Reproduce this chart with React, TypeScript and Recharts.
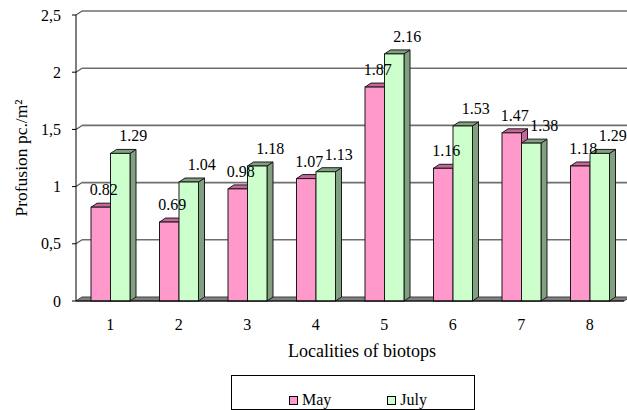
import React from 'react';
import { BarChart, Bar, XAxis, YAxis, CartesianGrid, LabelList, Legend } from 'recharts';

const categories = ['1', '2', '3', '4', '5', '6', '7', '8'];
const mayValues = [0.82, 0.69, 0.98, 1.07, 1.87, 1.16, 1.47, 1.18];
const julyValues = [1.29, 1.04, 1.18, 1.13, 2.16, 1.53, 1.38, 1.29];
const yTicks = [0, 0.5, 1, 1.5, 2, 2.5];
const edgeTicks = [0, 1, 2, 3, 4, 5, 6, 7, 8];
const seriesNames = ['May', 'July'];
const xTitle = 'Localities of biotops';
const yTitle = 'Profusion pc./m²';

const data = categories.map((c, i) => ({ name: c, may: mayValues[i], july: julyValues[i] }));

const FONT = 'Liberation Serif, Times New Roman, DejaVu Serif, serif';
const DX = 6;
const DY = -4;
const MARGIN = { top: 15, right: 3, left: 0, bottom: 79 };
const CHART_H = 410;
const X_AXIS_H = 30;
const PLOT_BOTTOM = CHART_H - MARGIN.bottom - X_AXIS_H;

const PINK = '#FF99CC';
const PINK_DARK = '#C8669A';
const GREEN = '#CCFFCC';
const GREEN_DARK = '#80A080';
const EDGE = '#1a1a1a';

const Bar3D = (props: any) => {
  const { x, y, width, height, front, dark } = props;
  if (x == null || y == null) return null;
  const X = Number(x), Y = Number(y), W = Number(width), H = Number(height);
  const top = `${X},${Y} ${X + DX},${Y + DY} ${X + W + DX},${Y + DY} ${X + W},${Y}`;
  const side = `${X + W},${Y} ${X + W + DX},${Y + DY} ${X + W + DX},${Y + H + DY} ${X + W},${Y + H}`;
  return (
    <g>
      <polygon points={side} fill={dark} stroke={EDGE} strokeWidth={1} strokeLinejoin="round" />
      <polygon points={top} fill={dark} stroke={EDGE} strokeWidth={1} strokeLinejoin="round" />
      <rect x={X} y={Y} width={W} height={H} fill={front} stroke={EDGE} strokeWidth={1} />
    </g>
  );
};

const makeLabel = (shift: number) => (props: any) => {
  const vb = props.viewBox && props.viewBox.x != null ? props.viewBox : props;
  const x = Number(vb.x), y = Number(vb.y), w = Number(vb.width), h = Number(vb.height);
  const top = h < 0 ? y + h : y;
  return (
    <text x={x + w / 2 + shift} y={top - 12} textAnchor="middle" style={{ fontSize: 16, fontFamily: FONT }} fill="#000">
      {Number(props.value).toFixed(2)}
    </text>
  );
};

const gridLine = (p: any) => {
  const { x1, x2, y1, key } = p;
  const bottom = p.y != null && p.height != null ? Number(p.y) + Number(p.height) : PLOT_BOTTOM;
  if (Math.abs(y1 - bottom) < 1) {
    const pts = `${x1},${y1} ${x2},${y1} ${x2 + DX},${y1 + DY} ${x1 + DX},${y1 + DY}`;
    return (
      <g key={key}>
        <polygon points={pts} fill="#808080" stroke="#404040" strokeWidth={1} />
      </g>
    );
  }
  return (
    <g key={key}>
      <line x1={x1} y1={y1} x2={x1 + DX} y2={y1 + DY} stroke="#555" strokeWidth={1.2} />
      <line x1={x1 + DX} y1={y1 + DY} x2={x2 + DX} y2={y1 + DY} stroke="#6e6e6e" strokeWidth={1.6} />
    </g>
  );
};

const LegendBox = (props: any) => {
  const payload = [...(props.payload || [])].sort(
    (a: any, b: any) => seriesNames.indexOf(a.value) - seriesNames.indexOf(b.value)
  );
  return (
    <div
      style={{
        boxSizing: 'border-box',
        width: 244,
        height: 35,
        border: '1px solid #000',
        background: '#fff',
        position: 'relative',
        fontFamily: FONT,
        fontSize: 16,
        color: '#000',
      }}
    >
      <div style={{ position: 'absolute', left: 0, right: 0, top: 16, display: 'flex', justifyContent: 'center', alignItems: 'center', paddingLeft: 10 }}>
        {payload.map((e: any, i: number) => (
          <div key={i} style={{ display: 'flex', alignItems: 'center', marginRight: i === 0 ? 56 : 0 }}>
            <span style={{ display: 'inline-block', width: 7, height: 7, border: '1px solid #000', background: e.color, marginRight: 4 }} />
            <span style={{ lineHeight: '16px' }}>{e.value}</span>
          </div>
        ))}
      </div>
    </div>
  );
};

const tickStyle = { fontSize: 16, fontFamily: FONT, fill: '#000' };

export default function App() {
  return (
    <div style={{ position: 'absolute', left: 0, top: 0, width: 627, height: 410, background: '#fff', fontFamily: FONT }}>
      <BarChart width={627} height={CHART_H} data={data} margin={MARGIN} barGap={0} barSize={19.5} style={{ fontFamily: FONT }}>
        <CartesianGrid vertical={false} horizontal={gridLine} />
        <XAxis
          xAxisId="edge"
          type="number"
          domain={[0, 8]}
          ticks={edgeTicks}
          tick={false}
          tickSize={5}
          tickLine={{ stroke: '#000' }}
          axisLine={false}
          height={0}
          allowDataOverflow
        />
        <XAxis
          dataKey="name"
          height={X_AXIS_H}
          tickLine={false}
          tickSize={0}
          tickMargin={18}
          axisLine={{ stroke: '#000' }}
          tick={tickStyle}
          label={{
            content: (lp: any) => {
              const vb = lp.viewBox || {};
              return (
                <text x={Number(vb.x) + Number(vb.width) / 2 + 12} y={357} textAnchor="middle" style={{ fontSize: 18, fontFamily: FONT }} fill="#000">
                  {xTitle}
                </text>
              );
            },
          }}
        />
        <YAxis
          width={76}
          domain={[0, 2.5]}
          ticks={yTicks}
          tickSize={4}
          tickMargin={11}
          tickFormatter={(v: number) => String(v).replace('.', ',')}
          axisLine={{ stroke: '#000' }}
          tickLine={{ stroke: '#000' }}
          tick={tickStyle}
          label={{
            content: (lp: any) => {
              const vb = lp.viewBox || {};
              const cy = Number(vb.y) + Number(vb.height) / 2;
              return (
                <text x={27} y={cy} transform={`rotate(-90, 27, ${cy})`} textAnchor="middle" style={{ fontSize: 17.5, fontFamily: FONT }} fill="#000">
                  {yTitle}
                </text>
              );
            },
          }}
        />
        <Legend
          verticalAlign="middle"
          layout="horizontal"
          align="center"
          wrapperStyle={{ position: 'absolute', left: 231, top: 375, width: 244, height: 35 }}
          content={LegendBox}
        />
        <Bar dataKey="may" name={seriesNames[0]} fill={PINK} isAnimationActive={false}
          shape={(p: any) => <Bar3D {...p} front={PINK} dark={PINK_DARK} />}>
          <LabelList dataKey="may" content={makeLabel(3)} />
        </Bar>
        <Bar dataKey="july" name={seriesNames[1]} fill={GREEN} isAnimationActive={false}
          shape={(p: any) => <Bar3D {...p} front={GREEN} dark={GREEN_DARK} />}>
          <LabelList dataKey="july" content={makeLabel(13)} />
        </Bar>
      </BarChart>
    </div>
  );
}
